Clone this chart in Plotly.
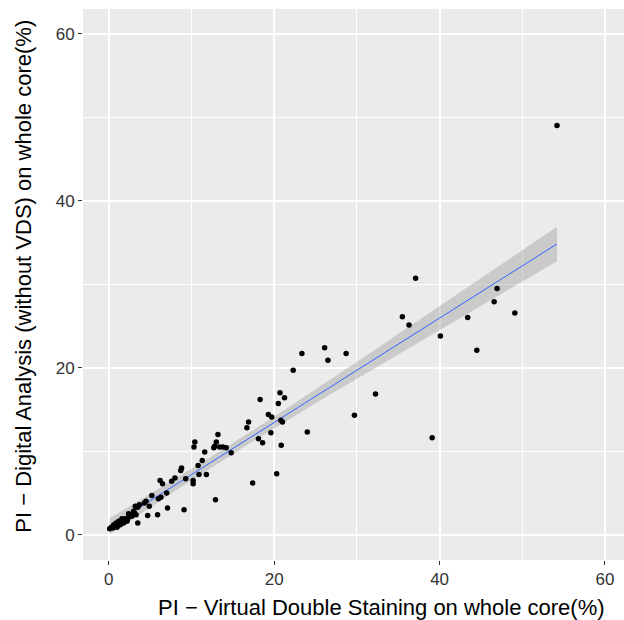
import numpy as np
import plotly.graph_objects as go

# PI - Virtual Double Staining (x) vs PI - Digital Analysis without VDS (y)
vds = [0.1, 0.3, 0.5, 0.6, 0.8, 0.9, 1.0, 1.2, 1.4, 1.5, 1.8, 2.0, 2.2, 2.3, 2.6, 2.8, 3.0, 3.1, 2.4, 1.6,
       3.5, 3.2, 3.5, 3.7, 3.3, 4.3, 4.5, 4.7, 4.9, 5.2, 5.9, 6.0, 6.3, 6.2, 6.5, 7.0, 7.1, 7.6, 8.0, 8.7,
       8.8, 9.1, 9.3, 10.2, 10.2, 10.4, 10.3, 10.9, 10.8, 11.3, 11.6, 11.8, 12.7, 12.8, 12.9, 13.0, 13.2, 13.4, 13.8, 14.2,
       14.8, 16.7, 16.9, 17.4, 18.1, 18.3, 18.6, 19.3, 19.6, 19.7, 20.3, 20.5, 20.7, 20.8, 20.85, 21.0, 21.25, 22.3, 23.35, 24.0,
       26.1, 26.5, 28.7, 29.7, 32.25, 35.5, 36.3, 37.1, 39.1, 40.1, 43.4, 44.5, 46.6, 46.95, 49.1, 54.2]
da = [0.7, 0.9, 0.8, 1.2, 1.0, 1.4, 0.9, 1.6, 1.2, 1.7, 1.4, 1.9, 1.6, 1.9, 2.4, 2.2, 2.8, 2.6, 2.5, 1.9,
      1.4, 3.4, 3.3, 3.6, 2.4, 3.8, 4.0, 2.3, 3.4, 4.7, 2.4, 4.3, 4.5, 6.5, 6.1, 5.0, 3.2, 6.4, 6.8, 7.7,
      8.0, 3.0, 6.7, 6.5, 6.1, 11.1, 10.5, 7.2, 8.3, 8.9, 9.9, 7.2, 10.4, 10.6, 4.2, 11.1, 12.0, 10.5, 10.5, 10.4,
      9.8, 12.8, 13.5, 6.2, 11.5, 16.2, 11.0, 14.4, 12.2, 14.1, 7.3, 15.7, 17.0, 13.7, 10.7, 13.5, 16.4, 19.7, 21.7, 12.3,
      22.4, 20.9, 21.7, 14.3, 16.85, 26.1, 25.1, 30.7, 11.6, 23.8, 26.0, 22.1, 27.9, 29.5, 26.55, 49.0]

x_ticks = [0, 20, 40, 60]
y_ticks = [0, 20, 40, 60]
x_title = "PI − Virtual Double Staining on whole core(%)"
y_title = "PI − Digital Analysis (without VDS) on whole core(%)"

x = np.array(vds, dtype=float)
y = np.array(da, dtype=float)

# linear model with 95% confidence band (like geom_smooth(method="lm"))
n = len(x)
b1, b0 = np.polyfit(x, y, 1)
resid = y - (b0 + b1 * x)
s = np.sqrt(np.sum(resid ** 2) / (n - 2))
xm = x.mean()
sxx = np.sum((x - xm) ** 2)
xs = np.linspace(x.min(), x.max(), 80)
fit = b0 + b1 * xs
se = s * np.sqrt(1.0 / n + (xs - xm) ** 2 / sxx)
tcrit = 1.985
upper = fit + tcrit * se
lower = fit - tcrit * se

fig = go.Figure()
fig.add_trace(go.Scatter(
    x=np.concatenate([xs, xs[::-1]]), y=np.concatenate([upper, lower[::-1]]),
    fill="toself", fillcolor="rgba(153,153,153,0.4)", line=dict(width=0),
    mode="lines", hoverinfo="skip", showlegend=False))
fig.add_trace(go.Scatter(x=xs, y=fit, mode="lines",
                         line=dict(color="#3366FF", width=1), showlegend=False))
fig.add_trace(go.Scatter(x=x, y=y, mode="markers",
                         marker=dict(color="black", size=5.5), showlegend=False))

FONT = "Liberation Sans, Arial, sans-serif"
axis_common = dict(
    showgrid=True, gridcolor="white", gridwidth=1.6, zeroline=False,
    ticks="outside", ticklen=4, tickwidth=1, tickcolor="#333333",
    tickfont=dict(size=17, color="#333333", family=FONT),
    showline=False, automargin=False,
    minor=dict(dtick=10, tick0=0, showgrid=True, gridcolor="white", gridwidth=0.6, ticks=""),
)

fig.update_layout(
    width=624, height=620,
    margin=dict(l=83, r=0, t=9, b=60),
    paper_bgcolor="white", plot_bgcolor="#EBEBEB",
    font=dict(family=FONT, color="black"),
    xaxis=dict(range=[-3.12, 62.3], tickvals=x_ticks, ticktext=[str(v) for v in x_ticks], **axis_common),
    yaxis=dict(range=[-3.03, 62.96], tickvals=y_ticks, ticktext=[str(v) for v in y_ticks], **axis_common),
    annotations=[
        dict(text=x_title, xref="paper", yref="paper", x=0.551, y=-0.087,
             xanchor="center", yanchor="middle", showarrow=False,
             font=dict(size=22, color="black", family=FONT)),
        dict(text=y_title, xref="paper", yref="paper", x=-0.11, y=0.515,
             xanchor="center", yanchor="middle", showarrow=False, textangle=-90,
             font=dict(size=22, color="black", family=FONT)),
    ],
)

fig.write_html("out.html")
